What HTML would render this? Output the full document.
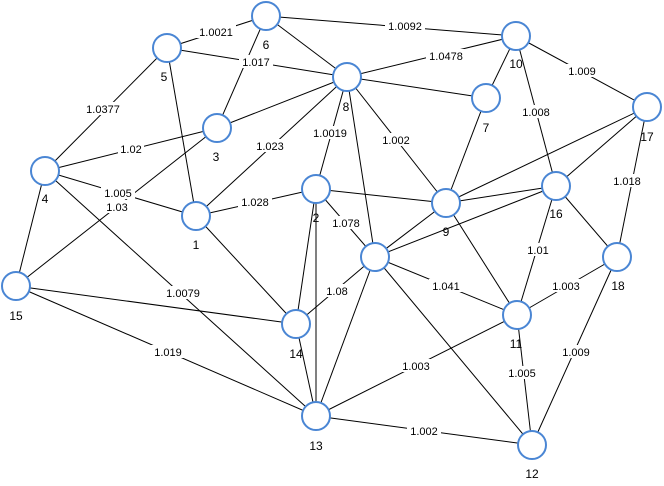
<!DOCTYPE html>
<html><head><style>body{margin:0;background:#fff}svg{display:block}</style></head><body>
<svg width="664" height="486" viewBox="0 0 664 486" xmlns="http://www.w3.org/2000/svg" font-family="Liberation Sans, sans-serif">
<g stroke="#000" stroke-width="1">
<line x1="167" y1="48" x2="266" y2="16"/>
<line x1="266" y1="16" x2="516" y2="36"/>
<line x1="167" y1="48" x2="347" y2="77"/>
<line x1="347" y1="77" x2="516" y2="36"/>
<line x1="516" y1="36" x2="647" y2="107"/>
<line x1="167" y1="48" x2="45" y2="171"/>
<line x1="266" y1="16" x2="347" y2="77"/>
<line x1="266" y1="16" x2="217" y2="128"/>
<line x1="217" y1="128" x2="347" y2="77"/>
<line x1="45" y1="171" x2="217" y2="128"/>
<line x1="516" y1="36" x2="486" y2="98"/>
<line x1="486" y1="98" x2="347" y2="77"/>
<line x1="516" y1="36" x2="556" y2="186"/>
<line x1="347" y1="77" x2="316" y2="189"/>
<line x1="347" y1="77" x2="196" y2="216"/>
<line x1="347" y1="77" x2="446" y2="203"/>
<line x1="347" y1="77" x2="375" y2="257"/>
<line x1="486" y1="98" x2="446" y2="203"/>
<line x1="647" y1="107" x2="446" y2="203"/>
<line x1="647" y1="107" x2="556" y2="186"/>
<line x1="647" y1="107" x2="617" y2="257"/>
<line x1="45" y1="171" x2="196" y2="216"/>
<line x1="45" y1="171" x2="16" y2="286"/>
<line x1="45" y1="171" x2="316" y2="416"/>
<line x1="16" y1="286" x2="217" y2="128"/>
<line x1="196" y1="216" x2="316" y2="189"/>
<line x1="167" y1="48" x2="196" y2="216"/>
<line x1="316" y1="189" x2="446" y2="203"/>
<line x1="316" y1="189" x2="375" y2="257"/>
<line x1="196" y1="216" x2="296" y2="324"/>
<line x1="316" y1="189" x2="296" y2="324"/>
<line x1="316" y1="189" x2="316" y2="416"/>
<line x1="375" y1="257" x2="296" y2="324"/>
<line x1="375" y1="257" x2="316" y2="416"/>
<line x1="375" y1="257" x2="446" y2="203"/>
<line x1="375" y1="257" x2="556" y2="186"/>
<line x1="375" y1="257" x2="517" y2="315"/>
<line x1="375" y1="257" x2="532" y2="445"/>
<line x1="446" y1="203" x2="517" y2="315"/>
<line x1="446" y1="203" x2="556" y2="186"/>
<line x1="556" y1="186" x2="517" y2="315"/>
<line x1="556" y1="186" x2="617" y2="257"/>
<line x1="517" y1="315" x2="617" y2="257"/>
<line x1="517" y1="315" x2="532" y2="445"/>
<line x1="617" y1="257" x2="532" y2="445"/>
<line x1="517" y1="315" x2="316" y2="416"/>
<line x1="316" y1="416" x2="532" y2="445"/>
<line x1="16" y1="286" x2="296" y2="324"/>
<line x1="16" y1="286" x2="316" y2="416"/>
<line x1="316" y1="416" x2="296" y2="324"/>
</g>
<g font-size="11" text-anchor="middle">
<g fill="#fff">
<rect x="196" y="25" width="40" height="13"/><rect x="385" y="19" width="40" height="13"/>
<rect x="239" y="55" width="34" height="13"/><rect x="426" y="49" width="40" height="13"/>
<rect x="565" y="64" width="34" height="13"/><rect x="83" y="102" width="40" height="13"/>
<rect x="118" y="142" width="26" height="13"/><rect x="519" y="105" width="34" height="13"/>
<rect x="310" y="126" width="40" height="13"/><rect x="253" y="139" width="34" height="13"/>
<rect x="379" y="133" width="34" height="13"/><rect x="101" y="186" width="34" height="13"/>
<rect x="104" y="200" width="26" height="13"/><rect x="238" y="195" width="34" height="13"/>
<rect x="329" y="216" width="34" height="13"/><rect x="610" y="174" width="34" height="13"/>
<rect x="528" y="243" width="20" height="13"/><rect x="324" y="284" width="26" height="13"/>
<rect x="429" y="279" width="34" height="13"/><rect x="549" y="279" width="34" height="13"/>
<rect x="163" y="286" width="40" height="13"/><rect x="151" y="345" width="34" height="13"/>
<rect x="559" y="345" width="34" height="13"/><rect x="399" y="359" width="34" height="13"/>
<rect x="505" y="366" width="34" height="13"/><rect x="407" y="424" width="34" height="13"/>
</g>
<text x="216" y="36">1.0021</text><text x="405" y="30">1.0092</text>
<text x="256" y="66">1.017</text><text x="446" y="60">1.0478</text>
<text x="582" y="75">1.009</text><text x="103" y="113">1.0377</text>
<text x="131" y="153">1.02</text><text x="536" y="116">1.008</text>
<text x="330" y="137">1.0019</text><text x="270" y="150">1.023</text>
<text x="396" y="144">1.002</text><text x="118" y="197">1.005</text>
<text x="117" y="211">1.03</text><text x="255" y="206">1.028</text>
<text x="346" y="227">1.078</text><text x="627" y="185">1.018</text>
<text x="538" y="254">1.01</text><text x="337" y="295">1.08</text>
<text x="446" y="290">1.041</text><text x="566" y="290">1.003</text>
<text x="183" y="297">1.0079</text><text x="168" y="356">1.019</text>
<text x="576" y="356">1.009</text><text x="416" y="370">1.003</text>
<text x="522" y="377">1.005</text><text x="424" y="435">1.002</text>
</g>
<g fill="#fff" stroke="#4a86d4" stroke-width="2">
<circle cx="266" cy="16" r="14"/><circle cx="167" cy="48" r="14"/><circle cx="516" cy="36" r="14"/>
<circle cx="347" cy="77" r="14"/><circle cx="486" cy="98" r="14"/><circle cx="647" cy="107" r="14"/>
<circle cx="217" cy="128" r="14"/><circle cx="45" cy="171" r="14"/><circle cx="556" cy="186" r="14"/>
<circle cx="316" cy="189" r="14"/><circle cx="446" cy="203" r="14"/><circle cx="196" cy="216" r="14"/>
<circle cx="16" cy="286" r="14"/><circle cx="617" cy="257" r="14"/><circle cx="296" cy="324" r="14"/>
<circle cx="517" cy="315" r="14"/><circle cx="316" cy="416" r="14"/><circle cx="532" cy="445" r="14"/>
<circle cx="375" cy="257" r="14"/>
</g>
<g font-size="12" text-anchor="middle" fill="#000">
<text x="266" y="49">6</text><text x="164" y="81">5</text><text x="516" y="68">10</text>
<text x="346" y="111">8</text><text x="486" y="132">7</text><text x="647" y="141">17</text>
<text x="216" y="161">3</text><text x="45" y="203">4</text><text x="556" y="218">16</text>
<text x="316" y="222">2</text><text x="446" y="236">9</text><text x="196" y="249">1</text>
<text x="16" y="320">15</text><text x="618" y="290">18</text><text x="296" y="358">14</text>
<text x="516" y="348">11</text><text x="316" y="450">13</text><text x="532" y="478">12</text>
</g>
</svg>
</body></html>
